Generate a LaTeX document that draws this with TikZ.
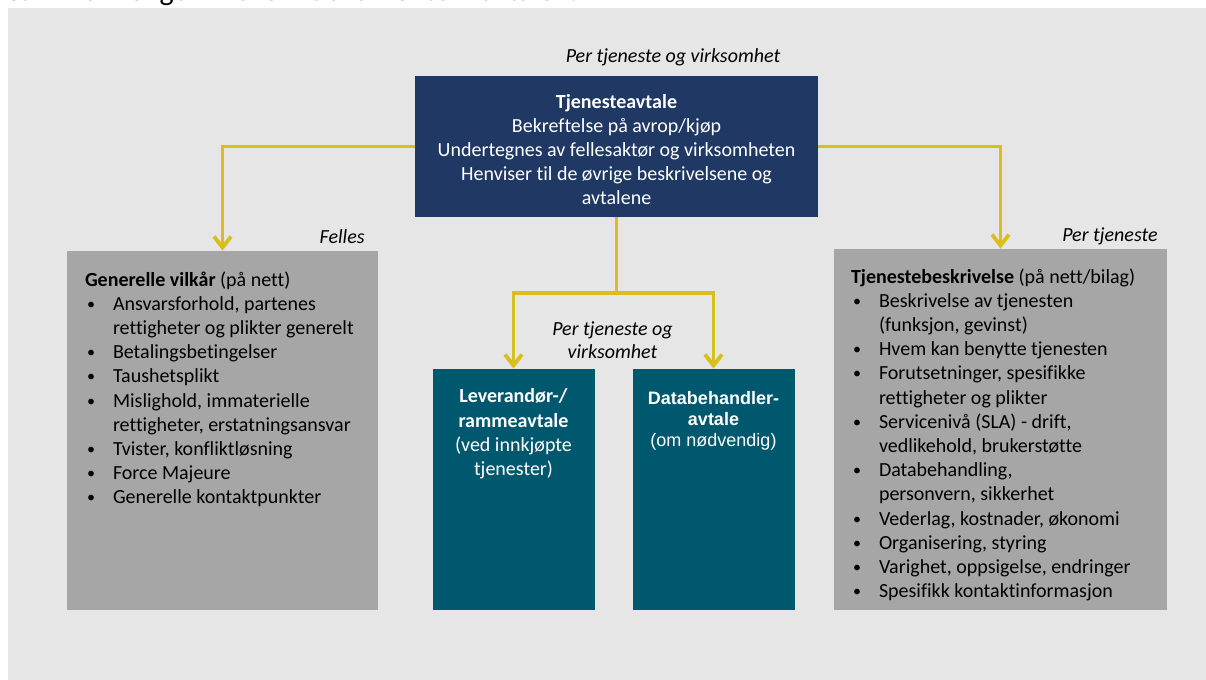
\documentclass[tikz,border=0pt]{standalone}
\usepackage{fontspec}
\setmainfont{Carlito}[Ligatures=NoCommon]
\newfontfamily\arialfont{Liberation Sans}
\usepackage{tikz}
\usetikzlibrary{arrows.meta, positioning, calc}

\definecolor{bggrey}{HTML}{E6E6E6}
\definecolor{boxgrey}{HTML}{A6A6A6}
\definecolor{navy}{HTML}{1F3864}
\definecolor{petrol}{HTML}{00586E}
\definecolor{gold}{HTML}{D9BF1D}

\newcommand{\bodyfont}{\fontsize{10}{12.1}\selectfont}
\newcommand{\tagfont}{\fontsize{10}{11.5}\selectfont\itshape}
\newcommand{\dbhfont}{\arialfont\fontsize{9}{10.5}\selectfont}
\newcommand{\bul}[1]{\hspace*{1pt}\makebox[13pt][l]{\raisebox{0.5pt}{\fontsize{8}{8}\selectfont\textbullet}}#1}
\newcommand{\cont}[1]{\hspace*{14pt}#1}

\begin{document}
\begin{tikzpicture}[
  x=0.5pt, y=-0.5pt,
  >={Straight Barb[length=5.5pt,width=8.5pt]},
  every node/.style={inner sep=0pt, font=\bodyfont},
  navybox/.style={fill=navy, minimum width=201.5pt, minimum height=70.5pt},
  greybox/.style={fill=boxgrey, minimum height=179.5pt},
  tealbox/.style={fill=petrol, minimum width=81pt, minimum height=120.5pt},
  tag/.style={font=\tagfont},
  flow/.style={->, draw=gold, line width=1.9pt},
  trunk/.style={draw=gold, line width=1.9pt}
]
  % ----- page -----
  \useasboundingbox (0,0) rectangle (1206,680);
  \fill[bggrey] (8,8) rectangle (1206,680);
  \node[anchor=base west, font=\fontsize{15}{18}\selectfont] (intro) at (8,1) {sammenhengen mellom dokumenter i avtalen.};
  % ----- boxes -----
  \node[navybox] (tjeneste) at (616.5,146.5) {};
  \node[greybox, minimum width=155.5pt] (vilkar) at (222.5,430.5) {};
  \node[greybox, minimum width=166.5pt, minimum height=180.5pt] (beskr) at (1000.5,429.5) {};
  \node[tealbox] (lev) at (513.5,489.5) {};
  \node[tealbox] (dbh) at (713.5,489.5) {};
  % ----- box texts -----
  \node[below=7.6pt of tjeneste.north, align=center, text=white] (tjenesteTxt)
    {\strut\textbf{Tjenesteavtale}\\ Bekreftelse på avrop/kjøp\\ Undertegnes av fellesaktør og virksomheten\\ Henviser til de øvrige beskrivelsene og\\ avtalene};
  \node[below right=9.1pt and 9pt of vilkar.north west, align=left] (vilkarTxt)
    {\strut\textbf{Generelle vilkår} (på nett)\\
     \bul{Ansvarsforhold, partenes}\\ \cont{rettigheter og plikter generelt}\\
     \bul{Betalingsbetingelser}\\
     \bul{Taushetsplikt}\\
     \bul{Mislighold, immaterielle}\\ \cont{rettigheter, erstatningsansvar}\\
     \bul{Tvister, konfliktløsning}\\
     \bul{Force Majeure}\\
     \bul{Generelle kontaktpunkter}};
  \node[below right=8.6pt and 8.5pt of beskr.north west, align=left] (beskrTxt)
    {\strut\textbf{Tjenestebeskrivelse} (på nett/bilag)\\
     \bul{Beskrivelse av tjenesten}\\ \cont{(funksjon, gevinst)}\\
     \bul{Hvem kan benytte tjenesten}\\
     \bul{Forutsetninger, spesifikke}\\ \cont{rettigheter og plikter}\\
     \bul{Servicenivå (SLA) - drift,}\\ \cont{vedlikehold, brukerstøtte}\\
     \bul{Databehandling,}\\ \cont{personvern, sikkerhet}\\
     \bul{Vederlag, kostnader, økonomi}\\
     \bul{Organisering, styring}\\
     \bul{Varighet, oppsigelse, endringer}\\
     \bul{Spesifikk kontaktinformasjon}};
  \node[below=8.5pt of lev.north, align=center, text=white] (levTxt)
    {\strut\textbf{Leverandør-/}\\ \textbf{rammeavtale}\\ (ved innkjøpte\\ tjenester)};
  \node[below=10.3pt of dbh.north, align=center, text=white, font=\dbhfont] (dbhTxt)
    {\strut\textbf{Databehandler-}\\ \textbf{avtale}\\ (om nødvendig)};
  % ----- scope tags -----
  \node[tag, anchor=base] (tagTop) at (673,62) {Per tjeneste og virksomhet};
  \node[tag, anchor=base east] (tagFelles) at (365,243) {Felles};
  \node[tag, anchor=base east] (tagPer) at (1158,241) {Per tjeneste};
  \node[tag, anchor=north, align=center] (tagMid) at (612.5,318.9) {\strut Per tjeneste og\\ virksomhet};
  % ----- connectors -----
  \draw[flow] (tjeneste.west) -| (vilkar.north);
  \draw[flow] (tjeneste.east) -| (beskr.north);
  \coordinate (split) at ($(tjeneste.south)+(0,75.5)$);
  \draw[trunk] (tjeneste.south) -- (split);
  \draw[flow] (split) -| (lev.north);
  \draw[flow] (split) -| (dbh.north);
\end{tikzpicture}
\end{document}
